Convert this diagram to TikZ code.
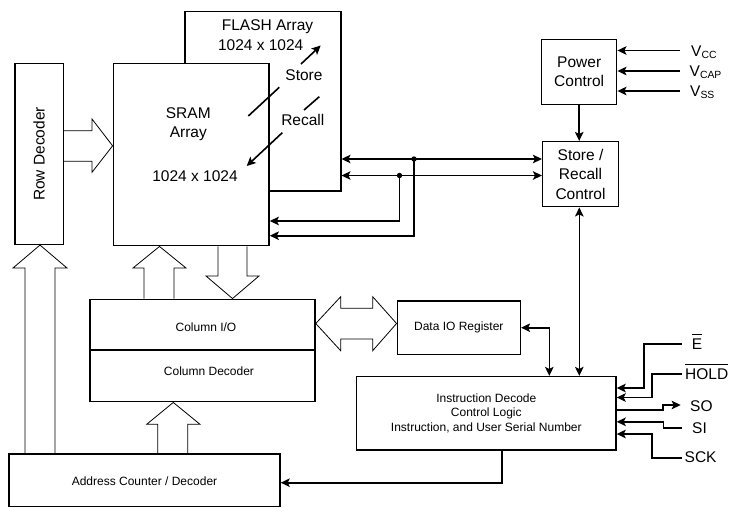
\documentclass[tikz,border=0pt]{standalone}
\usepackage{fontspec}
\setmainfont{Liberation Sans}
\usetikzlibrary{arrows.meta,calc}
\newcommand\ovbar[1]{\leavevmode\vbox{\hrule height 1.2pt\kern 3.6pt\hbox{#1}}}
\newcommand\vsub[1]{V\raisebox{-2pt}{\fontsize{10.4}{11}\selectfont #1}}
\begin{document}
\begin{tikzpicture}[x=1pt,y=-1pt,
  box/.style={draw, line width=1.5pt, fill=white, inner sep=0pt, font=\fontsize{15.5}{19.3}\selectfont, align=center},
  sbox/.style={box, font=\fontsize{12}{14.3}\selectfont},
  big/.style={inner sep=0pt, font=\fontsize{15.5}{19.3}\selectfont, anchor=base},
  small/.style={inner sep=0pt, font=\fontsize{12}{14.3}\selectfont, anchor=base},
  sig/.style={inner sep=0pt, font=\fontsize{15.5}{19.3}\selectfont, anchor=base west},
  tip/.tip={Stealth[length=9pt,width=8.5pt,inset=2pt]},
  wire/.style={line width=1.6pt},
  conn/.style={wire, -tip},
  dconn/.style={wire, tip-tip},
  blk/.style={draw, line width=0.8pt, line join=miter}]
\useasboundingbox (0,0) rectangle (729,507);

% boxes
\node[box, minimum width=155.7pt, minimum height=179.3pt] (flash) at (262.9,101.3) {};
\node[box, minimum width=155.7pt, minimum height=182.4pt] (sram) at (191.2,154.5) {};
\node[box, minimum width=48.3pt, minimum height=181pt] (rowdec) at (39.2,153.8) {};
\node[rotate=90, inner sep=0pt, font=\fontsize{15.5}{19.3}\selectfont] (rowtxt) at (39.2,154) {Row Decoder};
\node[box, minimum width=75pt, minimum height=65pt] (power) at (579.2,71.8) {Power\\Control};
\node[box, minimum width=75.6pt, minimum height=65pt] (storerec) at (580.5,174.2) {Store /\\Recall\\Control};
\node[sbox, minimum width=225pt, minimum height=50.7pt] (colio) at (202.5,324.65) {};
\node[sbox, minimum width=225pt, minimum height=51.7pt] (coldec) at (202.5,375.85) {};
\node[sbox, minimum width=123pt, minimum height=53.3pt] (dataio) at (458.8,327.7) {Data IO Register};
\node[sbox, minimum width=259.3pt, minimum height=73.3pt] (instr) at (486.3,413.3) {Instruction Decode\\Control Logic\\Instruction, and User Serial Number};
\node[sbox, minimum width=271pt, minimum height=52.5pt] (addr) at (144.5,480.25) {};

% texts
\node[big] (t1) at (267.5,30.7) {FLASH Array};
\node[big] (t2) at (260.7,50) {1024 x 1024};
\node[big] (t3) at (188.3,118.3) {SRAM};
\node[big] (t4) at (188.3,137.8) {Array};
\node[big] (t5) at (195,181.5) {1024 x 1024};
\node[big] (t6) at (304,80.2) {Store};
\node[big] (t7) at (302.8,125.8) {Recall};
\node[small] (t8) at (206,331.3) {Column I/O};
\node[small] (t9) at (209,375) {Column Decoder};
\node[small] (t10) at (144.5,485.5) {Address Counter / Decoder};

% store / recall diagonals
\coordinate (sa) at (248.3,116);
\coordinate (sb) at (279.3,87.3);
\coordinate (sc) at (301,64);
\coordinate (sd) at (320.7,45.5);
\coordinate (ra) at (319.3,96.7);
\coordinate (rb) at (304,110);
\coordinate (rc) at (282.3,132.7);
\coordinate (rd) at (246.7,166);
\draw[wire] (sa) -- (sb);
\draw[conn] (sc) -- (sd);
\draw[wire] (ra) -- (rb);
\draw[conn] (rc) -- (rd);

% block arrows
\draw[blk] (rowdec.east |- 0,130.7) -- (92,130.7) -- (92,119) -- (sram.west |- 0,145.8) -- (92,172.3) -- (92,161.3) -- (rowdec.east |- 0,161.3);
\draw[blk] (25,0 |- addr.north) -- (25,268) -- (13,268) -- (40,0 |- rowdec.south) -- (67,268) -- (55,268) -- (55,0 |- addr.north);
\draw[blk] (144,0 |- colio.north) -- (144,268) -- (133,268) -- (159.5,0 |- sram.south) -- (186,268) -- (174,268) -- (174,0 |- colio.north);
\draw[blk] (218,0 |- sram.south) -- (218,276) -- (206,276) -- (232.5,0 |- colio.north) -- (259,276) -- (247,276) -- (247,0 |- sram.south);
\draw[blk] (157.7,0 |- addr.north) -- (157.7,424.3) -- (146.7,424.3) -- (173.3,0 |- coldec.south) -- (200,424.3) -- (187.7,424.3) -- (187.7,0 |- addr.north);
\draw[blk] (colio.east |- 0,323.5) -- (340.7,296.7) -- (340.7,308.3) -- (372.7,308.3) -- (372.7,296.7) -- (dataio.west |- 0,323.5) -- (372.7,350.7) -- (372.7,339) -- (340.7,339) -- (340.7,350.7) -- cycle;

% store/recall control bus
\coordinate (j1) at (414,159);
\coordinate (j2) at (399.5,175.5);
\draw[dconn] (flash.east |- j1) -- (storerec.west |- j1);
\draw[dconn] (flash.east |- j2) -- (storerec.west |- j2);
\fill (j1) circle (2.7pt);
\fill (j2) circle (2.7pt);
\draw[conn] (j1) -- (414,235.7) -- (sram.east |- 0,235.7);
\draw[conn] (j2) -- (399.5,221) -- (sram.east |- 0,221);

% power
\draw[conn] (power.south) -- (power.south |- storerec.north);
\coordinate (vcc) at (680,50.5);
\coordinate (vcap) at (680,71);
\coordinate (vss) at (680,91);
\draw[conn] (vcc) -- (power.east |- vcc);
\draw[conn] (vcap) -- (power.east |- vcap);
\draw[conn] (vss) -- (power.east |- vss);
\node[sig] (lvcc) at (691,56) {\vsub{CC}};
\node[sig] (lvcap) at (689.5,76.5) {\vsub{CAP}};
\node[sig] (lvss) at (690,96.5) {\vsub{SS}};

% vertical links
\draw[dconn] (579.3,0 |- storerec.south) -- (579.3,0 |- instr.north);
\draw[dconn] (dataio.east) -- (549.3,0 |- dataio.east) -- (549.3,0 |- instr.north);
\draw[conn] (501.7,0 |- instr.south) -- (501.7,482.7) -- (addr.east |- 0,482.7);

% serial signals
\coordinate (pe) at (681.7,344);
\coordinate (ph) at (681.7,373.7);
\coordinate (pso) at (680.7,405);
\coordinate (psi) at (681.7,428);
\coordinate (psck) at (681.7,458);
\draw[conn] (pe) -- (644,344) -- (644,388) -- (instr.east |- 0,388);
\draw[conn] (ph) -- (651.7,373.7) -- (651.7,397.5) -- (instr.east |- 0,397.5);
\draw[conn] (instr.east |- 0,410) -- (663,410) -- (663,405) -- (pso);
\draw[conn] (psi) -- (663.3,428) -- (663.3,421.8) -- (instr.east |- 0,421.8);
\draw[conn] (psck) -- (651.7,458) -- (651.7,434) -- (instr.east |- 0,434);
\node[sig] (le) at (691.7,349.5) {\ovbar{E}};
\node[sig] (lh) at (685,379.5) {\ovbar{HOLD}};
\node[sig] (lso) at (690,411) {SO};
\node[sig] (lsi) at (692,433.3) {SI};
\node[sig] (lsck) at (684.5,462.5) {SCK};
\end{tikzpicture}
\end{document}
